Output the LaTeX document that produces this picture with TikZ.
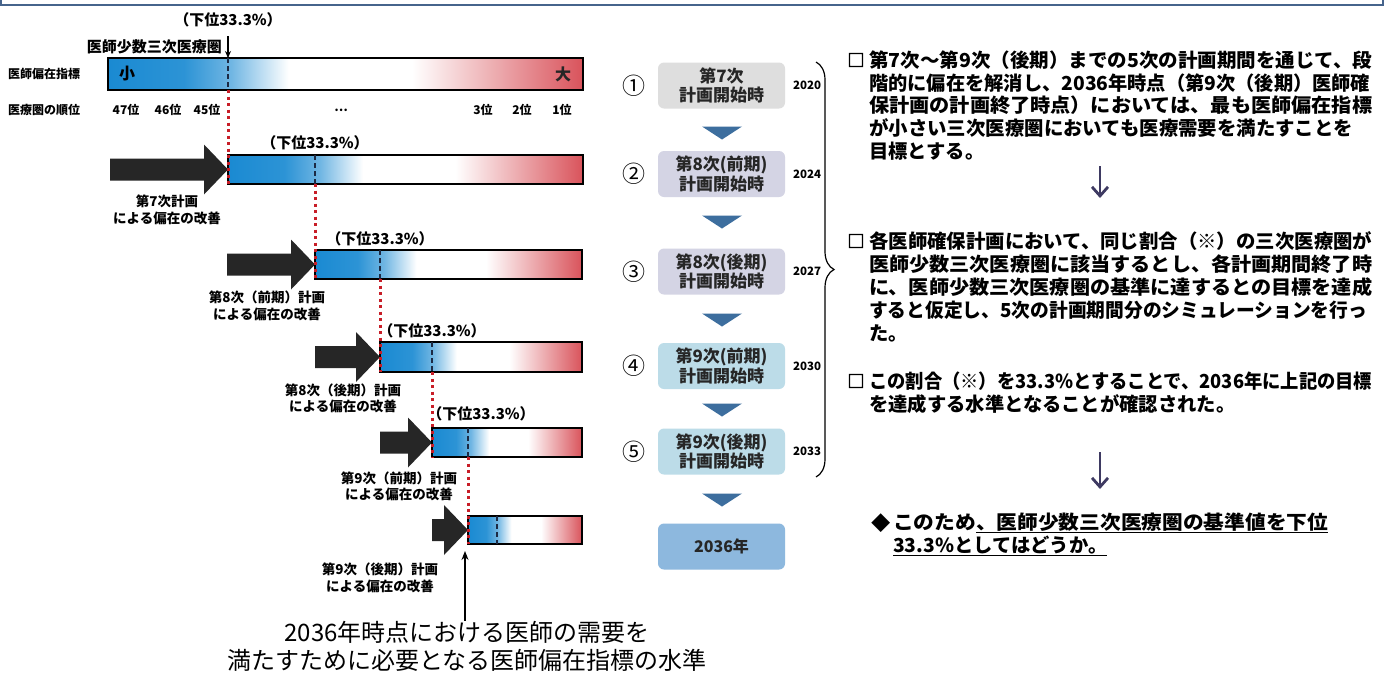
\documentclass[tikz,border=0pt]{standalone}
\usepackage{fontspec}
\usepackage{graphicx}
\setmainfont{Noto Sans CJK JP}
\newfontfamily\boxfont{Noto Sans CJK JP}[FakeBold=4]
\usetikzlibrary{arrows.meta,decorations.pathreplacing,calc}
\definecolor{barblue}{HTML}{1A8AD2}
\definecolor{barred}{HTML}{D9535B}
\definecolor{dotred}{HTML}{C81E28}
\definecolor{frameblue}{HTML}{46648C}
\definecolor{arrowblack}{HTML}{262626}
\definecolor{tricol}{HTML}{3D6E9E}
\definecolor{fillA}{HTML}{DEDEDE}
\definecolor{fillB}{HTML}{D4D4E4}
\definecolor{fillC}{HTML}{BCDCE8}
\definecolor{fillD}{HTML}{8DB8DE}
\definecolor{navy}{HTML}{1C2A44}
\definecolor{downcol}{HTML}{3E3A62}
\pgfdeclarehorizontalshading{barshade}{100bp}{color(0bp)=(barblue); color(25bp)=(barblue); color(33bp)=(barblue!92!white); color(38bp)=(barblue!62!white); color(44bp)=(white); color(57bp)=(white); color(75bp)=(barred); color(100bp)=(barred)}
\newcommand\mkbar[6]{%
  \node[barnode, minimum width={#3-#2}, minimum height={#5-#4}, anchor=north west] (#1) at (#2,#4) {};
  \draw[dashline] (#6,#4) -- (#6,#5);
  \coordinate (#1d) at (#6,#5);}
\newcommand\blockarrow[3]{\fill[arrowblack] (#1,#3-11) -- (#2-24,#3-11) -- (#2-24,#3-25) -- (#2,#3) -- (#2-24,#3+25) -- (#2-24,#3+11) -- (#1,#3+11) -- cycle;}
\newcommand\tridown[2]{\fill[tricol] (#1-20,#2-6.5) -- (#1+20,#2-6.5) -- (#1,#2+6.5) -- cycle;}
\newcommand\fitw[2]{\resizebox{#1pt}{\height}{#2}}
\begin{document}
\begin{tikzpicture}[x=1pt,y=-1pt,
  barnode/.style={draw=black, line width=1.6pt, shade, shading=barshade, inner sep=0pt, outer sep=0pt},
  dashline/.style={navy, line width=1.2pt, dash pattern=on 5pt off 3pt},
  dotline/.style={dotred, line width=3pt, dash pattern=on 3pt off 3.5pt},
  lbl/.style={font=\bfseries\fontsize{15}{17}\selectfont, inner sep=0pt},
  smalltxt/.style={font=\bfseries\fontsize{12}{14}\selectfont, inner sep=0pt},
  captxt/.style={font=\bfseries\fontsize{13.5}{16.5}\selectfont, align=center, inner sep=0pt},
  flowbox/.style={rounded corners=6pt, minimum width=127pt, minimum height=46pt, inner sep=0pt, align=center, text=black!85, font=\bfseries\fontsize{17}{19.5}\selectfont},
  circtxt/.style={font=\fontsize{23}{23}\selectfont, inner sep=0pt},
  yrtxt/.style={font=\bfseries\fontsize{11.5}{12}\selectfont, inner sep=0pt},
  rtext/.style={font=\bfseries\fontsize{19.3}{22}\selectfont, anchor=west, inner sep=0pt},
  bullet/.style={font=\boxfont\fontsize{17}{20}\selectfont, inner sep=0pt},
  bigtxt/.style={font=\fontsize{24}{28}\selectfont, inner sep=0pt, align=center},
  rarrow/.style={downcol, line width=2.8pt, -{Straight Barb[length=9pt,width=16pt]}}]
\useasboundingbox (0,0) rectangle (1386,673);
\fill[white] (0,0) rectangle (1386,673);
% top frame
\draw[frameblue, line width=1.5pt] (1,-3) -- (1,5) -- (1383,5) -- (1383,-3);

% ---------- left: bars ----------
\node[lbl] (top33) at (228,20) {（下位33.3\%）};
\node[lbl, anchor=east] (shosu) at (222,47) {医師少数三次医療圏};
\node[smalltxt, anchor=west] (hen) at (8,74) {医師偏在指標};
\node[smalltxt, anchor=west] (jun) at (8,110) {医療圏の順位};

\blockarrow{110}{228}{169.5}
\blockarrow{227}{315}{264.5}
\blockarrow{315}{380}{357}
\blockarrow{380}{432}{442.5}
\blockarrow{432}{468}{530}

\mkbar{bar1}{108}{583}{58}{90}{228}
\mkbar{bar2}{228}{583}{155}{184}{315}
\mkbar{bar3}{315}{582}{250}{279}{380}
\mkbar{bar4}{380}{582}{342}{372}{432}
\mkbar{bar5}{432}{582}{428}{457}{468}
\mkbar{bar6}{468}{582}{516}{544}{497}

\coordinate (downstart) at (228,36);
\draw[-{Stealth[length=7pt,width=6pt]}, line width=1.3pt] (downstart) -- (downstart |- bar1.north);

\node[font=\bfseries\fontsize{16}{16}\selectfont, inner sep=0pt] (small1) at (127,74) {小};
\node[font=\bfseries\fontsize{16}{16}\selectfont, inner sep=0pt, text=black!85] (large1) at (563,74) {大};
\node[smalltxt] (r47) at (126,110) {47位};
\node[smalltxt] (r46) at (168,110) {46位};
\node[smalltxt] (r45) at (207,110) {45位};
\node[smalltxt] (rdots) at (341,110) {…};
\node[smalltxt] (r3) at (483,110) {3位};
\node[smalltxt] (r2) at (522,110) {2位};
\node[smalltxt] (r1) at (562,110) {1位};

\node[lbl] (l2) at (315,143) {（下位33.3\%）};
\node[lbl] (l3) at (380,239) {（下位33.3\%）};
\node[lbl] (l4) at (432,331) {（下位33.3\%）};
\node[lbl] (l5) at (481,414) {（下位33.3\%）};

\draw[dotline] (bar1d) -- (bar2.south west);
\draw[dotline] (bar2d) -- (bar3.south west);
\draw[dotline] (bar3d) -- (bar4.south west);
\draw[dotline] (bar4d) -- (bar5.south west);
\draw[dotline] (bar5d) -- (bar6.south west);

\node[captxt] (c1) at (167,210) {第7次計画\\による偏在の改善};
\node[captxt] (c2) at (267,306) {第8次（前期）計画\\による偏在の改善};
\node[captxt] (c3) at (343,398.5) {第8次（後期）計画\\による偏在の改善};
\node[captxt] (c4) at (399,486.5) {第9次（前期）計画\\による偏在の改善};
\node[captxt] (c5) at (380,578) {第9次（後期）計画\\による偏在の改善};

\node[bigtxt] (bigtext) at (467,646) {2036年時点における医師の需要を\\満たすために必要となる医師偏在指標の水準};
\coordinate (uptip) at (465,551);
\draw[-{Stealth[length=9pt,width=7pt]}, line width=1.3pt] (bigtext.north -| uptip) -- (uptip);

% ---------- middle: flow ----------
\node[flowbox, fill=fillA] (f1) at (721.5,85.5) {第7次\\計画開始時};
\node[flowbox, fill=fillB] (f2) at (721.5,174) {第8次(前期)\\計画開始時};
\node[flowbox, fill=fillB] (f3) at (721.5,271.5) {第8次(後期)\\計画開始時};
\node[flowbox, fill=fillC] (f4) at (721.5,366) {第9次(前期)\\計画開始時};
\node[flowbox, fill=fillC] (f5) at (721.5,451.5) {第9次(後期)\\計画開始時};
\node[flowbox, fill=fillD, font=\bfseries\fontsize{16}{18}\selectfont] (f6) at (721.5,546.5) {2036年};
\tridown{722}{133}
\tridown{722}{222}
\tridown{722}{320}
\tridown{722}{410}
\tridown{722}{500}

\node[circtxt] (n1) at (634,85.5) {①};
\node[circtxt] (n2) at (634,174) {②};
\node[circtxt] (n3) at (634,271.5) {③};
\node[circtxt] (n4) at (634,366) {④};
\node[circtxt] (n5) at (634,451.5) {⑤};

\node[yrtxt] (y1) at (807,85.5) {2020};
\node[yrtxt] (y2) at (807,174) {2024};
\node[yrtxt] (y3) at (807,271.5) {2027};
\node[yrtxt] (y4) at (807,366) {2030};
\node[yrtxt] (y5) at (807,451.5) {2033};

\draw[decorate, decoration={brace, amplitude=18pt}, line width=1.2pt] (816,62) -- (816,477);

% ---------- right: text ----------
\node[bullet] (b1) at (856,60) {□};
\node[rtext] (p1a) at (869,60) {\fitw{503}{第7次～第9次（後期）までの5次の計画期間を通じて、段}};
\node[rtext] (p1b) at (869,83) {\fitw{501}{階的に偏在を解消し、2036年時点（第9次（後期）医師確}};
\node[rtext] (p1c) at (869,105.5) {\fitw{503}{保計画の計画終了時点）においては、最も医師偏在指標}};
\node[rtext] (p1d) at (869,128) {\fitw{484}{が小さい三次医療圏においても医療需要を満たすことを}};
\node[rtext] (p1e) at (869,151) {目標とする。};

\coordinate (ar1s) at (1100,166);
\coordinate (ar1e) at (1100,198);
\draw[rarrow] (ar1s) -- (ar1e);

\node[bullet] (b2) at (856,241) {□};
\node[rtext] (p2a) at (869,241) {\fitw{503}{各医師確保計画において、同じ割合（※）の三次医療圏が}};
\node[rtext] (p2b) at (869,264) {\fitw{503}{医師少数三次医療圏に該当するとし、各計画期間終了時}};
\node[rtext] (p2c) at (869,287) {\fitw{503}{に、医師少数三次医療圏の基準に達するとの目標を達成}};
\node[rtext] (p2d) at (869,310) {\fitw{498}{すると仮定し、5次の計画期間分のシミュレーションを行っ}};
\node[rtext] (p2e) at (869,333) {た。};

\node[bullet] (b3) at (856,381) {□};
\node[rtext] (p3a) at (869,381) {\fitw{503}{この割合（※）を33.3\%とすることで、2036年に上記の目標}};
\node[rtext] (p3b) at (869,404) {を達成する水準となることが確認された。};

\coordinate (ar2s) at (1100,452);
\coordinate (ar2e) at (1100,489);
\draw[rarrow] (ar2s) -- (ar2e);

\node[rtext, anchor=center] (dia) at (881,523) {◆};
\node[rtext] (p4a) at (893,523) {\fitw{435}{このため\underline{、医師少数三次医療圏の基準値を下位}}};
\node[rtext] (p4b) at (893,546) {\underline{33.3\%としてはどうか。}};
\end{tikzpicture}
\end{document}
